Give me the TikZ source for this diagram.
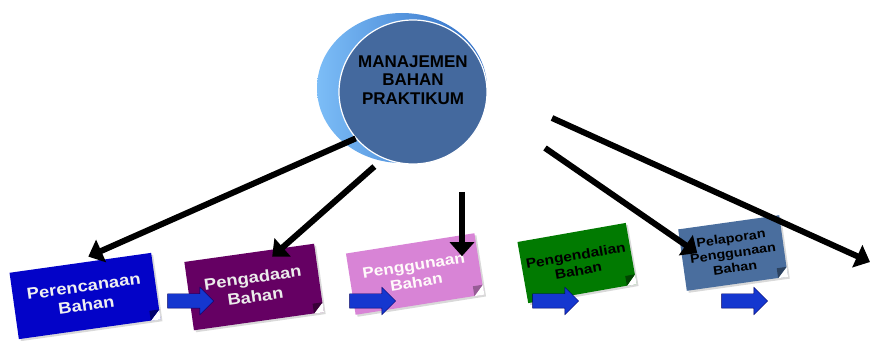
\documentclass[tikz,border=0pt]{standalone}
\usepackage{fontspec}
\setmainfont{Liberation Sans}
\newfontfamily\wide[FakeStretch=1.15]{Liberation Sans}
\usepackage{tikz}
\usetikzlibrary{positioning,calc,shapes.geometric,shapes.arrows,shadows,arrows.meta}
\definecolor{diskface}{HTML}{44699E}
\definecolor{disklight}{HTML}{7CBDF7}
\definecolor{diskdark}{HTML}{2E6CC4}
\definecolor{planblue}{HTML}{0303C8}
\definecolor{buypurple}{HTML}{650063}
\definecolor{useorchid}{HTML}{D884D6}
\definecolor{ctrlgreen}{HTML}{017A01}
\definecolor{repsteel}{HTML}{4A6E9E}
\definecolor{flowblue}{HTML}{1537CF}

\begin{document}
\begin{tikzpicture}[x=1pt, y=1pt,
note/.style={rectangle, rotate=8, inner sep=0pt, align=center, drop shadow={shadow xshift=2pt, shadow yshift=-2pt, opacity=0.3}},
flow/.style={single arrow, draw=blue!40!black, fill=flowblue, minimum height=46pt, inner sep=7pt, single arrow head extend=6.5pt},
bigarrow/.style={line width=6pt, -{Triangle[length=14pt,width=24pt]}}]
\tikzstyle{every node}=[font=\bfseries]
\useasboundingbox (0,0) rectangle (870,340);

% the disk
\node[ellipse, minimum width=170pt, minimum height=150pt, left color=disklight, right color=diskdark] (b0) at (402,252) {};
\node[ellipse, minimum width=148pt, minimum height=144pt, fill=diskface, draw=white, line width=1.2pt,
  label={[yshift=12pt, align=center, font=\fontsize{17}{18.5}\selectfont\bfseries]center:MANAJEMEN\\BAHAN\\PRAKTIKUM}] (0) at (413,248) {};

% the notes
\node[note, fill=planblue, text=white!94!black, minimum width=143pt, minimum height=67pt, font=\wide\fontsize{16}{19}\selectfont\bfseries] (1) at (85,44) {Perencanaan\\Bahan};
\node[note, fill=buypurple, text=white!92!black, minimum width=131pt, minimum height=69pt, font=\wide\fontsize{16}{19}\selectfont\bfseries] (2) at (254,53) {Pengadaan\\Bahan};
\node[note, rotate=1, fill=useorchid, text=white!92!pink, minimum width=130pt, minimum height=62pt, font=\wide\fontsize{15}{17}\selectfont\bfseries] (3) at (415,66) {Penggunaan\\Bahan};
\node[note, rotate=2, fill=ctrlgreen, text=black, minimum width=110pt, minimum height=62pt, font=\wide\fontsize{13.5}{15.5}\selectfont\bfseries] (4) at (577,77) {Pengendalian\\Bahan};
\node[note, fill=repsteel, text=black, minimum width=102pt, minimum height=62pt, font=\wide\fontsize{12.5}{15}\selectfont\bfseries] (5) at (733,87) {Pelaporan\\Penggunaan\\Bahan};

% folded corners
\fill[white] ($(1.south east)!10pt!(1.south west)$) -- (1.south east) -- ($(1.south east)!10pt!(1.north east)$) -- cycle;
\fill[planblue!55!black] ($(1.south east)!10pt!(1.south west)$) -- ($(1.south east)!10pt!(1.north east)$) -- ($(1.south east)!10pt!(1.south west) + (1.south east)!10pt!(1.north east) - (1.south east)$) -- cycle;
\fill[white] ($(2.south east)!10pt!(2.south west)$) -- (2.south east) -- ($(2.south east)!10pt!(2.north east)$) -- cycle;
\fill[buypurple!55!black] ($(2.south east)!10pt!(2.south west)$) -- ($(2.south east)!10pt!(2.north east)$) -- ($(2.south east)!10pt!(2.south west) + (2.south east)!10pt!(2.north east) - (2.south east)$) -- cycle;
\fill[white] ($(3.south east)!10pt!(3.south west)$) -- (3.south east) -- ($(3.south east)!10pt!(3.north east)$) -- cycle;
\fill[useorchid!70!black] ($(3.south east)!10pt!(3.south west)$) -- ($(3.south east)!10pt!(3.north east)$) -- ($(3.south east)!10pt!(3.south west) + (3.south east)!10pt!(3.north east) - (3.south east)$) -- cycle;
\fill[white] ($(4.south east)!10pt!(4.south west)$) -- (4.south east) -- ($(4.south east)!10pt!(4.north east)$) -- cycle;
\fill[ctrlgreen!55!black] ($(4.south east)!10pt!(4.south west)$) -- ($(4.south east)!10pt!(4.north east)$) -- ($(4.south east)!10pt!(4.south west) + (4.south east)!10pt!(4.north east) - (4.south east)$) -- cycle;
\fill[white] ($(5.south east)!10pt!(5.south west)$) -- (5.south east) -- ($(5.south east)!10pt!(5.north east)$) -- cycle;
\fill[repsteel!60!black] ($(5.south east)!10pt!(5.south west)$) -- ($(5.south east)!10pt!(5.north east)$) -- ($(5.south east)!10pt!(5.south west) + (5.south east)!10pt!(5.north east) - (5.south east)$) -- cycle;

% blue flow arrows
\node[flow] (r1) at (187,39) {};
\node[flow] (r2) at (369,39) {};
\node[flow] (r3) at (552,39) {};
\node[flow] (r4) at (741,39) {};

% black arrows
\coordinate (a3) at (462,148);
\coordinate (a4) at (545,192);
\coordinate (a5) at (552,222);
\coordinate (e5) at (870,78);
\draw[bigarrow] (0.219) -- ([shift={(8,6)}]1.north);
\draw[bigarrow, shorten <=12pt] (0.246) -- ([shift={(23,-4)}]2.north);
\draw[bigarrow] (a3) -- ([yshift=-13pt]a3 |- 3.north);
\draw[bigarrow] (a4) -- ([shift={(15,7)}]5.west);
\draw[bigarrow] (a5) -- (e5);
\end{tikzpicture}
\end{document}
